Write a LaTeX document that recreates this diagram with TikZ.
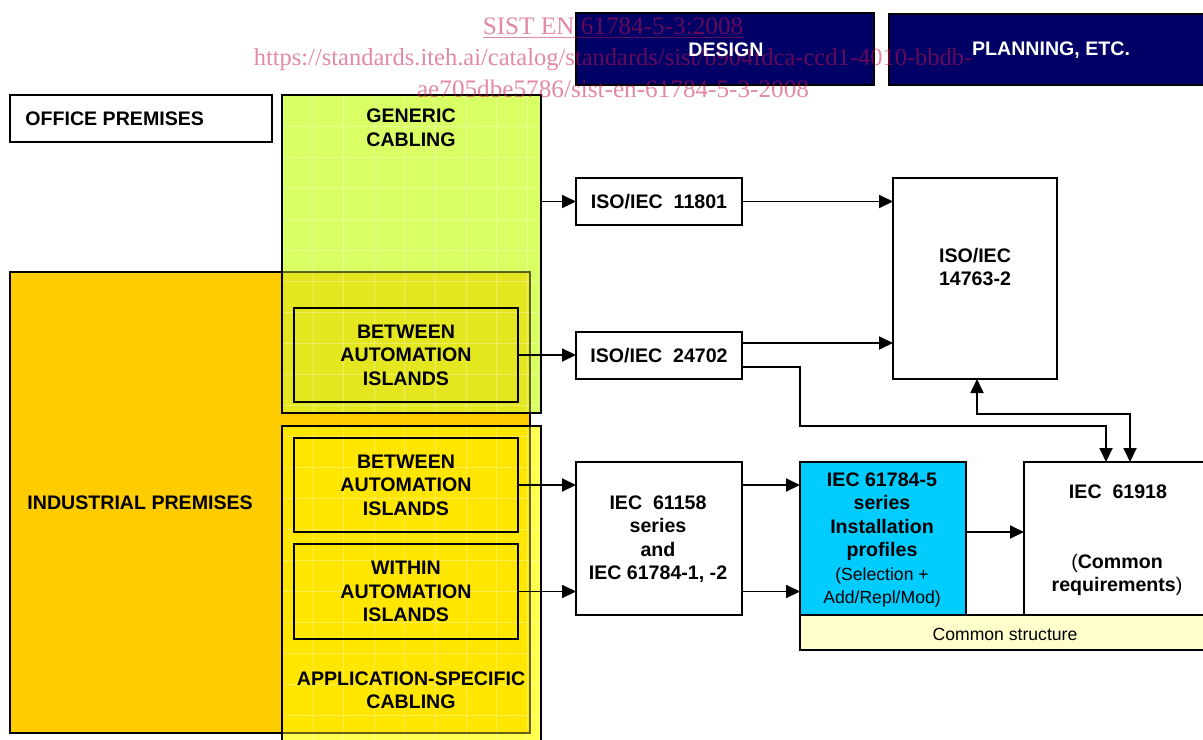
\documentclass[tikz,border=0pt]{standalone}
\usepackage{fontspec}
\setmainfont{Liberation Sans}
\newfontfamily\wmfont{Liberation Serif}
\usetikzlibrary{arrows.meta,fit}

\definecolor{indorange}{RGB}{255,204,0}
\definecolor{genlime}{RGB}{218,255,100}
\definecolor{genover}{RGB}{228,230,32}
\definecolor{appyellow}{RGB}{255,230,0}
\definecolor{applight}{RGB}{255,255,80}
\definecolor{navy}{RGB}{0,0,102}
\definecolor{profcyan}{RGB}{0,204,255}
\definecolor{cream}{RGB}{255,255,204}
\definecolor{wmred}{RGB}{200,20,80}

\tikzset{
  boxline/.style={draw=black, line width=0.9pt},
  area/.style={fit={#1}, inner sep=0pt, outer sep=0pt},
  txt/.style={font=\bfseries\fontsize{9.8}{11.75}\selectfont, align=center, inner sep=0pt},
  thin/.style={font=\fontsize{8.8}{11.75}\selectfont, align=center, inner sep=0pt},
  arr/.style={line width=0.9pt, -{Triangle[length=7pt,width=6.5pt]}},
  darr/.style={line width=0.9pt, {Triangle[length=7pt,width=6.5pt]}-{Triangle[length=7pt,width=6.5pt]}},
  gridline/.style={line width=0.5pt, draw=white, opacity=0.3},
  wm/.style={font=\wmfont\fontsize{12.6}{14}\selectfont, text=wmred, opacity=0.5, inner sep=0pt, anchor=base}
}

\begin{document}
\begin{tikzpicture}[x=0.5pt, y=-0.5pt]
\useasboundingbox (0,0) rectangle (1203,739);
\clip (0,0) rectangle (1203,739);
\fill[white] (0,0) rectangle (1203,739);

% ---- premises ----
\node[area={(10,95) (272,142)}, boxline, fill=white] (office) {};
\node[txt, anchor=west] (officetxt) at (25,119) {OFFICE PREMISES};

\node[area={(10,272) (530,733)}, boxline, fill=indorange] (ind) {};
\node[txt, anchor=west] (indtxt) at (27,503) {INDUSTRIAL PREMISES};

% ---- generic cabling (translucent over the industrial area) ----
\node[area={(282,95) (541,413)}, fill=genlime] (gen) {};
\fill[genover] (282,272) rectangle (530,413);
\foreach \gx in {313,343,374,404,435,466,496,527}
  \draw[gridline] (\gx,95) -- (\gx,413);
\foreach \gy in {126,157,188,219,250,281,312,343,374,405}
  \draw[gridline] (282,\gy) -- (541,\gy);
\draw[line width=0.9pt, black, opacity=0.6] (282,272) -- (530,272) -- (530,413);
\draw[boxline] (gen.north west) rectangle (gen.south east);
\node[txt] (gentxt) at (411,127.5) {GENERIC\\CABLING};

% ---- application-specific cabling ----
\node[area={(282,426) (541,760)}, fill=applight] (app) {};
\fill[appyellow] (282,426) rectangle (530,733);
\foreach \gx in {313,343,374,404,435,466,496,527}
  \draw[gridline] (\gx,426) -- (\gx,760);
\foreach \gy in {436,467,498,529,560,591,622,653,684,715}
  \draw[gridline] (282,\gy) -- (541,\gy);
\draw[line width=0.9pt, black, opacity=0.6] (282,733) -- (530,733) -- (530,426);
\draw[boxline] (app.north west) rectangle (app.south east);
\node[txt] (apptxt) at (411,690) {APPLICATION-SPECIFIC\\CABLING};

% ---- island boxes ----
\node[area={(294,308) (518,402)}, boxline] (ba1) {};
\node[txt] (ba1txt) at (ba1.center) {BETWEEN\\AUTOMATION\\ISLANDS};
\node[area={(294,438) (518,532)}, boxline] (ba2) {};
\node[txt] (ba2txt) at (ba2.center) {BETWEEN\\AUTOMATION\\ISLANDS};
\node[area={(294,544) (518,639)}, boxline] (within) {};
\node[txt] (withintxt) at (within.center) {WITHIN\\AUTOMATION\\ISLANDS};

% ---- headers ----
\node[area={(576,13) (874,85)}, boxline, fill=navy] (design) {};
\node[area={(889,14) (1215,85)}, boxline, fill=navy] (planning) {};

% ---- standards ----
\node[area={(576,178) (742,225)}, boxline, fill=white] (iso11801) {};
\node[txt] (iso11801txt) at (iso11801.center) {ISO/IEC\ \ 11801};
\node[area={(576,332) (742,379)}, boxline, fill=white] (iso24702) {};
\node[txt] (iso24702txt) at (iso24702.center) {ISO/IEC\ \ 24702};
\node[area={(893,178) (1057,379)}, boxline, fill=white] (iso14763) {};
\node[txt] (iso14763txt) at (975,267) {ISO/IEC\\14763-2};

\node[area={(576,462) (742,615)}, boxline, fill=white] (iec61158) {};
\node[txt] (iec61158txt) at (658,539) {IEC\ \ 61158\\series\\and\\IEC 61784-1, -2};
\node[area={(800,462) (966,615)}, boxline, fill=profcyan] (iec617845) {};
\node[txt] (iec617845txt) at (882,540) {IEC 61784-5\\series\\Installation\\profiles\\{\mdseries\fontsize{8.8}{11}\selectfont(Selection +}\\{\mdseries\fontsize{8.8}{11}\selectfont Add/Repl/Mod)}};
\node[area={(1024,462) (1215,615)}, boxline, fill=white] (iec61918) {};
\node[txt] (iec61918txt) at (1118,492) {IEC\ \ 61918};
\node[txt] (commontxt) at (1117,575) {{\mdseries(}Common\\requirements{\mdseries)}};
\node[area={(800,615) (1215,650)}, boxline, fill=cream] (common) {};
\node[thin] (commonlbl) at (1005,634) {Common structure};

% ---- connectors ----
\draw[arr] (gen.east |- iso11801.west) -- (iso11801.west);
\draw[arr] (iso11801.east) -- (iso11801.east -| iso14763.west);
\draw[arr] (ba1.east) -- (ba1.east -| iso24702.west);

\coordinate (t1) at (742,343);
\draw[arr] (t1) -- (t1 -| iso14763.west);

\coordinate (s1) at (742,367);
\coordinate (s2) at (800,426);
\coordinate (s3) at (1106,426);
\draw[arr] (s1) -| (s2) -- (s3) -- (s3 |- iec61918.north);

\coordinate (d1) at (977,414);
\coordinate (d2) at (1130,414);
\draw[darr] (d1 |- iso14763.south) -- (d1) -- (d2) -- (d2 |- iec61918.north);

\draw[arr] (ba2.east) -- (ba2.east -| iec61158.west);
\draw[arr] (within.east) -- (within.east -| iec61158.west);
\draw[arr] (ba2.east -| iec61158.east) -- (ba2.east -| iec617845.west);
\draw[arr] (within.east -| iec61158.east) -- (within.east -| iec617845.west);

\coordinate (m1) at (966,532);
\draw[arr] (m1) -- (m1 -| iec61918.west);

% ---- document stamp ----
\node[wm] (wm1) at (613,34) {\underline{SIST EN 61784-5-3:2008}};
\node[wm, font=\wmfont\fontsize{12.25}{14}\selectfont] (wm2) at (613,65) {https://standards.iteh.ai/catalog/standards/sist/b904fdca-ccd1-4010-bbdb-};
\node[wm] (wm3) at (613,97) {ae705dbe5786/sist-en-61784-5-3-2008};

% ---- header labels ----
\node[txt, text=white] (designtxt) at (726,50) {DESIGN};
\node[txt, text=white] (planningtxt) at (1051,50) {PLANNING, ETC.};
\end{tikzpicture}
\end{document}
